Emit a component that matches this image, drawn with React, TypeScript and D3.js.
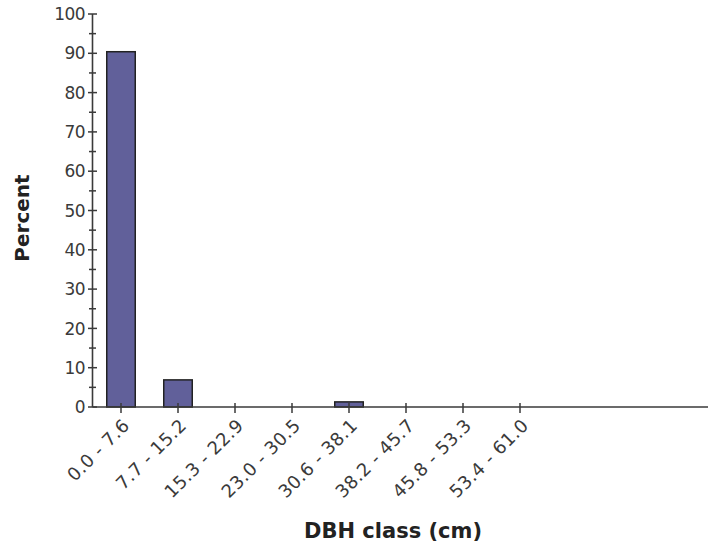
import React from 'react';
import * as d3 from 'd3';

const categories = [
  '0.0 - 7.6',
  '7.7 - 15.2',
  '15.3 - 22.9',
  '23.0 - 30.5',
  '30.6 - 38.1',
  '38.2 - 45.7',
  '45.8 - 53.3',
  '53.4 - 61.0',
];
const percent = [90.4, 6.9, 0, 0, 1.3, 0, 0, 0];
const majorTicks = [0, 10, 20, 30, 40, 50, 60, 70, 80, 90, 100];
const minorTicks = [5, 15, 25, 35, 45, 55, 65, 75, 85, 95];

const W = 708;
const H = 546;
const axisX = 92.5;
const axisY = 407;
const FONT = '"DejaVu Sans", Verdana, sans-serif';
const TEXT = '#3a3a3a';

export default function App() {
  const x = d3.scaleBand<string>()
    .domain(categories)
    .range([axisX, axisX + 57 * categories.length])
    .paddingInner(0.5)
    .paddingOuter(0.25);
  const y = d3.scaleLinear().domain([0, 100]).range([axisY, 14]);

  return (
    <svg width={W} height={H} style={{ position: 'absolute', left: 0, top: 0 }}>
      <rect width={W} height={H} fill="#fff" />
      {categories.map((c, i) => (
        percent[i] > 0 ? (
          <rect
            key={c}
            x={x(c)}
            y={y(percent[i])}
            width={x.bandwidth()}
            height={axisY - y(percent[i])}
            fill="#61609a"
            stroke="#222"
            strokeWidth={1.5}
          />
        ) : null
      ))}

      {/* y axis */}
      <line x1={axisX} x2={axisX} y1={y(100)} y2={axisY} stroke={TEXT} strokeWidth={1.6} />
      {majorTicks.map(t => (
        <g key={t}>
          <line x1={axisX - 4.5} x2={axisX + 4.5} y1={y(t)} y2={y(t)} stroke={TEXT} strokeWidth={1.5} />
          <text
            x={85}
            y={y(t)}
            dy="0.36em"
            textAnchor="end"
            fontFamily={FONT}
            fontSize={17}
            letterSpacing={-0.6}
            fill={TEXT}
          >
            {t}
          </text>
        </g>
      ))}
      {minorTicks.map(t => (
        <line key={t} x1={axisX - 3.5} x2={axisX + 3.5} y1={y(t)} y2={y(t)} stroke={TEXT} strokeWidth={1.5} />
      ))}

      {/* x axis */}
      <line x1={axisX} x2={W} y1={axisY} y2={axisY} stroke={TEXT} strokeWidth={1.6} />
      {categories.map(c => {
        const cx = (x(c) as number) + x.bandwidth() / 2;
        return (
          <g key={c}>
            <line x1={cx} x2={cx} y1={axisY - 4} y2={axisY + 6} stroke={TEXT} strokeWidth={1.5} />
            <text
              transform={`translate(${cx + 5},${axisY + 15}) rotate(-45)`}
              textAnchor="end"
              dy="0.36em"
              fontFamily={FONT}
              fontSize={18}
              letterSpacing={0.4}
              fill={TEXT}
            >
              {c}
            </text>
          </g>
        );
      })}

      <text
        transform="translate(29,218) rotate(-90)"
        textAnchor="middle"
        fontFamily={FONT}
        fontSize={20}
        fontWeight="bold"
        fill="#222"
      >
        Percent
      </text>
      <text
        x={393}
        y={538}
        textAnchor="middle"
        fontFamily={FONT}
        fontSize={21}
        fontWeight="bold"
        fill="#222"
      >
        DBH class (cm)
      </text>
    </svg>
  );
}
